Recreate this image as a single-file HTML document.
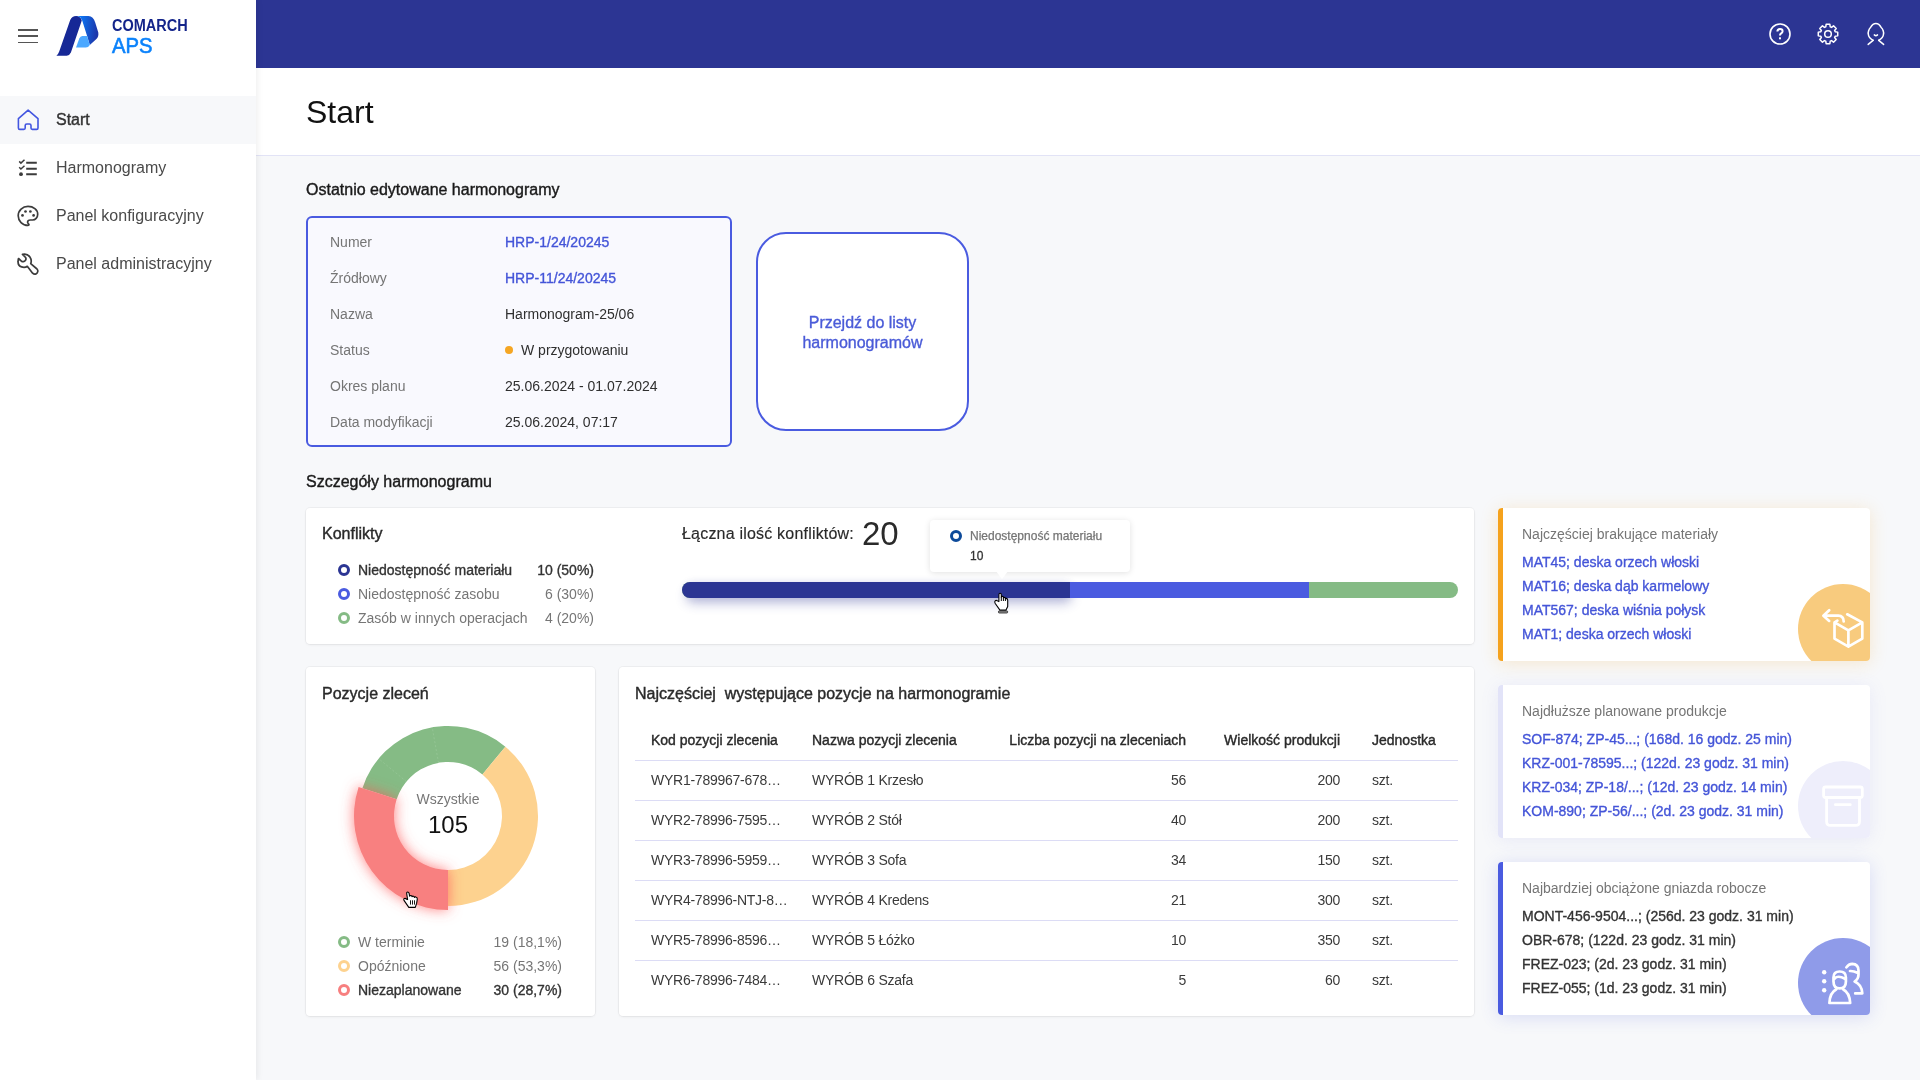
<!DOCTYPE html>
<html lang="pl">
<head>
<meta charset="utf-8">
<title>Comarch APS - Start</title>
<style>
*{box-sizing:border-box;margin:0;padding:0}
html,body{width:1920px;height:1080px;overflow:hidden}
body{font-family:"Liberation Sans",Arial,sans-serif;background:#f7f8fa;color:#333;position:relative;will-change:transform}
.abs{position:absolute}
/* sidebar */
#side{position:absolute;left:0;top:0;width:256px;height:1080px;background:#fff;box-shadow:2px 0 6px rgba(0,0,0,.06);z-index:5}
.ham{position:absolute;left:18px;width:20px;height:1.5px;background:#555}
.logo-t1{position:absolute;left:112px;top:15.5px;font-size:16px;font-weight:700;color:#13248a;line-height:20px;transform:scaleX(.905);transform-origin:0 0}
.logo-t2{position:absolute;left:112px;top:34.5px;font-size:21.8px;font-weight:400;color:#0b82fb;line-height:22px;-webkit-text-stroke:.6px #0b82fb;transform:scaleX(.93);transform-origin:0 0}
.nav{position:absolute;left:0;width:256px;height:48px;font-size:16px;color:#4a4a4a;line-height:48px}
.nav span{position:absolute;left:56px;top:0}
.nav svg{position:absolute;left:0;top:0}
.nav.act{background:#f7f8fa;color:#333;-webkit-text-stroke:.4px #333}
/* top bar */
#top{position:absolute;left:256px;top:0;width:1664px;height:68px;background:#2c3593}
#top svg{position:absolute;top:22px}
/* page header */
#ph{position:absolute;left:256px;top:68px;width:1664px;height:88px;background:#fff;border-bottom:1px solid #e2e3f6}
#ph h1{position:absolute;left:50px;top:24px;font-size:32px;font-weight:400;color:#111;line-height:40px}
.sec{position:absolute;font-size:16px;color:#1a1a1a;-webkit-text-stroke:.4px #1a1a1a;line-height:20px;white-space:nowrap}

/* card 1 */
#c1{position:absolute;left:306px;top:216px;width:426px;height:231px;border:2px solid #4a5be0;border-radius:6px;background:#f9f9fe}
.row{position:absolute;left:22px;height:20px;line-height:20px;font-size:14px;white-space:nowrap}
.row .l{position:absolute;left:0;color:#757575}
.row .v{position:absolute;left:175px;color:#2f2f2f}
.row .v.lnk{color:#4455d8;-webkit-text-stroke:.35px #4455d8}
#c2{position:absolute;left:756px;top:232px;width:213px;height:199px;border:2px solid #4a5be0;border-radius:30px;background:#fff;color:#4a5bd8;font-size:16px;-webkit-text-stroke:.35px #4a5bd8;text-align:center;line-height:20px;padding-top:79px}
.card{position:absolute;background:#fff;border-radius:4px;box-shadow:0 0 0 1px rgba(0,0,0,.04),0 1px 3px rgba(0,0,0,.06)}
.ct{position:absolute;font-size:16px;color:#2a2a2a;-webkit-text-stroke:.4px #2a2a2a;line-height:20px;white-space:nowrap}
.lg{position:absolute;height:20px;line-height:20px;font-size:14px;color:#767676;white-space:nowrap}
.lg i{position:absolute;left:-20px;top:4px;width:12px;height:12px;border-radius:50%;border:3.2px solid #000}
.lg b{font-weight:400}
.lg.on{color:#333;-webkit-text-stroke:.35px #333}
.val{position:absolute;font-size:14px;color:#767676;line-height:20px;text-align:right;white-space:nowrap}
.val.on{color:#333;-webkit-text-stroke:.35px #333}
/* bar */
#bar{position:absolute;left:682px;top:582px;width:776px;height:16px;border-radius:8px;overflow:hidden;background:#85bb85}
#tip{position:absolute;left:930px;top:520px;width:200px;height:52px;background:#fff;border-radius:4px;box-shadow:0 1px 6px rgba(0,0,0,.12)}
/* right cards */
.rc{position:absolute;left:1498px;width:372px;height:153px;background:#fff;border-radius:4px;overflow:hidden}
.rc .bd{position:absolute;left:0;top:0;bottom:0;width:5px}
.rc .ttl{position:absolute;left:24px;top:16px;font-size:14px;color:#757575;line-height:20px;white-space:nowrap}
.rc .it{position:absolute;left:24px;font-size:14px;line-height:20px;white-space:nowrap;color:#4455d8;-webkit-text-stroke:.35px #4455d8}
.rc .circ{position:absolute;left:300px;top:76px;width:90px;height:90px;border-radius:50%}
/* table */
table{position:absolute;left:635px;top:720px;width:823px;border-collapse:collapse;table-layout:fixed;font-size:14px;color:#333}
th{height:40px;font-weight:400;-webkit-text-stroke:.4px #2a2a2a;text-align:left;padding:0 0 0 16px;border-bottom:1px solid #dcdcf5;white-space:nowrap;color:#2a2a2a}
td{height:40px;padding:0 0 0 16px;border-bottom:1px solid #dcdcf5;white-space:nowrap;color:#3a3a3a;letter-spacing:-.25px}
tr:last-child td{border-bottom:none}
.r{text-align:right}
</style>
</head>
<body>
<div id="side">
  <div class="ham" style="top:29px"></div>
  <div class="ham" style="top:35.2px"></div>
  <div class="ham" style="top:41.5px"></div>
  <svg class="abs" style="left:0;top:0" width="110" height="70" viewBox="0 0 110 70">
    <defs>
      <linearGradient id="lg1" x1="0" y1="0" x2="1" y2="0.2">
        <stop offset="0" stop-color="#0a80ff"/>
        <stop offset="1" stop-color="#1c36aa"/>
      </linearGradient>
    </defs>
    <path d="M56.4 55.8 L66.7 55.8 Q69.6 55.6 70.9 52.6 L81.8 20.4 Q80.5 16.2 76.2 16 Q72 16.2 70.2 20 L59.2 51.6 Q58.3 54.3 56.4 55.8 Z" fill="#162896"/>
    <path d="M77.8 16 L88.4 16 Q93.4 16.5 95.2 22.4 L98.3 32.6 Q98.9 36.6 96.4 39.1 L89.8 44.9 L87.1 36 L82.2 20.4 Q80.8 17 77.8 16 Z" fill="url(#lg1)"/>
    <path d="M76 47.6 L85.8 47.6 Q88.3 47.4 89.8 44.9 L87.1 36 L82.4 36 Q80.2 36.2 79.3 38.5 Z" fill="#4ba8ff"/>
  </svg>
  <div class="logo-t1">COMARCH</div>
  <div class="logo-t2">APS</div>

  <div class="nav act" style="top:96px">
    <svg width="48" height="48" viewBox="0 0 48 48" fill="none" stroke="#4356e0" stroke-width="1.6" stroke-linejoin="round"><path d="M28.1 14.2 L18.4 22.6 V32 Q18.4 33.4 19.8 33.4 H23.9 Q25.2 33.4 25.2 32.1 V29.6 Q25.2 28 26.8 28 H29.5 Q31 28 31 29.6 V32.1 Q31 33.4 32.3 33.4 H36.6 Q38 33.4 38 32 V22.6 Z"/></svg>
    <span>Start</span>
  </div>
  <div class="nav" style="top:144px">
    <svg width="48" height="48" viewBox="0 0 48 48" fill="none" stroke="#3c3c3c" stroke-width="1.9"><path d="M26.2 18.7H36.8M26.2 24.7H36.8M26.2 30.2H36.8"/><path d="M19.2 17.4l1.7 1.7 3.6-3.3M19.2 23.3l1.7 1.7 3.6-3.3" stroke-width="1.5"/><circle cx="21" cy="30.2" r="1.9" fill="#3c3c3c" stroke="none"/></svg>
    <span>Harmonogramy</span>
  </div>
  <div class="nav" style="top:192px">
    <svg width="48" height="48" viewBox="0 0 48 48" fill="none" stroke="#3c3c3c" stroke-width="1.7"><path d="M28 33.4 C22.5 33.4 18.2 29 18.2 23.8 C18.2 18.5 22.6 14.4 28 14.4 C33.4 14.4 37.7 17.6 37.7 22.3 C37.7 25.6 35.3 28 32.6 28 L30.4 28 C28.6 28 27.6 29.3 27.6 30.2 C27.6 31.4 29 31.9 29 32.6 C29 33.1 28.6 33.4 28 33.4 Z"/><circle cx="25.5" cy="19.5" r="1.35" fill="#3c3c3c" stroke="none"/><circle cx="30.4" cy="19.5" r="1.35" fill="#3c3c3c" stroke="none"/><circle cx="22.5" cy="23.4" r="1.35" fill="#3c3c3c" stroke="none"/><circle cx="33.6" cy="23.4" r="1.35" fill="#3c3c3c" stroke="none"/></svg>
    <span>Panel konfiguracyjny</span>
  </div>
  <div class="nav" style="top:240px">
    <svg width="48" height="48" viewBox="0 0 48 48" fill="none" stroke="#3c3c3c" stroke-width="1.7" stroke-linejoin="round"><path d="M22.5 14.4 C24.5 13.9 28 14.2 29.9 17 C31.4 19.2 31.5 21.7 30.7 23.7 L37 29 C38.4 30.3 37.9 33 36 33.9 C34.8 34.4 33.5 34 32.6 33.2 L27.3 26.3 C25.8 27.3 23.6 27.6 21.6 26.9 C19.3 26.1 17.9 23.6 18.1 21.4 C18.1 20.4 18.3 19.2 18.5 18.5 L21.4 21.1 C22.4 22 24.3 22 25.3 20.6 C26.2 19.3 26 17.6 24.8 16.6 Z"/></svg>
    <span>Panel administracyjny</span>
  </div>
</div>

<div id="top">
  <svg style="left:1512px" width="24" height="24" viewBox="0 0 24 24" fill="none" stroke="#fff" stroke-width="1.6"><circle cx="12" cy="12" r="10"/><path d="M9.4 9.6 Q9.4 7 12 7 Q14.6 7 14.6 9.3 Q14.6 10.8 13 11.5 Q12 12 12 13.6" stroke-width="2"/><rect x="11" y="15.3" width="2" height="2" fill="#fff" stroke="none"/></svg>
  <svg style="left:1560px" width="24" height="24" viewBox="0 0 24 24" fill="none" stroke="#fff" stroke-width="1.5" stroke-linejoin="round"><path d="M9.78 4.83 L10.13 2.28 L13.87 2.28 L14.22 4.83 L15.50 5.37 L17.55 3.80 L20.20 6.45 L18.63 8.50 L19.17 9.78 L21.72 10.13 L21.72 13.87 L19.17 14.22 L18.63 15.50 L20.20 17.55 L17.55 20.20 L15.50 18.63 L14.22 19.17 L13.87 21.72 L10.13 21.72 L9.78 19.17 L8.50 18.63 L6.45 20.20 L3.80 17.55 L5.37 15.50 L4.83 14.22 L2.28 13.87 L2.28 10.13 L4.83 9.78 L5.37 8.50 L3.80 6.45 L6.45 3.80 L8.50 5.37 Z"/><circle cx="12" cy="12" r="3.3"/></svg>
  <svg style="left:1608px" width="24" height="24" viewBox="0 0 24 24" fill="none" stroke="#fff" stroke-width="1.5" stroke-linecap="round"><path d="M9.1 18.3 Q4.6 15.5 4.4 12.7 Q3.9 10.6 4.6 8.9 Q5 6.8 6.7 5.2 Q8.8 1.4 11.9 1.4 Q15 1.4 17 5.2 Q18.8 6.8 19.2 8.9 Q19.9 10.6 19.4 12.7 Q19.2 15.5 14.7 18.3"/><path d="M10.3 12.9 Q11.9 14.4 13.5 12.9"/><path d="M4.2 22.4 L9.1 18.3 M19.6 22.4 L14.7 18.3"/></svg>
</div>

<div id="ph"><h1>Start</h1></div>

<div class="sec" style="left:306px;top:180px">Ostatnio edytowane harmonogramy</div>

<div id="c1">
  <div class="row" style="top:14px"><span class="l">Numer</span><span class="v lnk">HRP-1/24/20245</span></div>
  <div class="row" style="top:50px"><span class="l">Źródłowy</span><span class="v lnk">HRP-11/24/20245</span></div>
  <div class="row" style="top:86px"><span class="l">Nazwa</span><span class="v">Harmonogram-25/06</span></div>
  <div class="row" style="top:122px"><span class="l">Status</span><span class="v"><i style="position:absolute;left:0;top:6px;width:8px;height:8px;border-radius:50%;background:#f5a623"></i><span style="padding-left:16px">W przygotowaniu</span></span></div>
  <div class="row" style="top:158px"><span class="l">Okres planu</span><span class="v">25.06.2024 - 01.07.2024</span></div>
  <div class="row" style="top:194px"><span class="l">Data modyfikacji</span><span class="v">25.06.2024, 07:17</span></div>
</div>
<div id="c2">Przejdź do listy<br>harmonogramów</div>

<div class="sec" style="left:306px;top:472px">Szczegóły harmonogramu</div>

<div class="card" style="left:306px;top:508px;width:1168px;height:136px"></div>
<div class="ct" style="left:322px;top:524px">Konflikty</div>
<div class="lg on" style="left:358px;top:560px"><i style="border-color:#2b3593"></i>Niedostępność materiału</div>
<div class="lg" style="left:358px;top:584px"><i style="border-color:#4a5be0"></i>Niedostępność zasobu</div>
<div class="lg" style="left:358px;top:608px"><i style="border-color:#85bb85"></i>Zasób w innych operacjach</div>
<div class="val on" style="right:1326px;top:560px">10 (50%)</div>
<div class="val" style="right:1326px;top:584px">6 (30%)</div>
<div class="val" style="right:1326px;top:608px">4 (20%)</div>
<div class="ct" style="left:682px;top:524px;color:#2a2a2a;letter-spacing:.2px;-webkit-text-stroke:.15px #2a2a2a">Łączna ilość konfliktów:</div>
<div class="abs" style="left:862px;top:514px;font-size:33px;line-height:40px;color:#2a2a2a">20</div>
<div class="abs" style="left:686px;top:583px;width:386px;height:14px;border-radius:7px;box-shadow:0 6px 12px rgba(43,53,147,.33),0 0 8px rgba(43,53,147,.15)"></div>
<div id="bar"><div class="abs" style="left:0;top:0;width:388px;height:16px;background:#2b3593"></div><div class="abs" style="left:388px;top:0;width:239px;height:16px;background:#4a5be0"></div></div>
<div id="tip">
  <i class="abs" style="left:20px;top:10px;width:12px;height:12px;border-radius:50%;border:3.2px solid #0d4a9a"></i>
  <div class="abs" style="left:40px;top:8px;font-size:12px;line-height:16px;color:#757575;white-space:nowrap;-webkit-text-stroke:.25px #757575">Niedostępność materiału</div>
  <div class="abs" style="left:40px;top:28px;font-size:12px;line-height:16px;color:#333;-webkit-text-stroke:.3px #333">10</div>
  <div class="abs" style="left:66px;top:51px;width:0;height:0;border-left:6px solid transparent;border-right:6px solid transparent;border-top:8px solid #fff"></div>
</div>

<div class="rc" style="top:508px;box-shadow:0 2px 18px rgba(245,166,35,.2)">
  <div class="bd" style="background:#f5a21d"></div>
  <div class="ttl">Najczęściej brakujące materiały</div>
  <div class="it" style="top:44px">MAT45; deska orzech włoski</div>
  <div class="it" style="top:68px">MAT16; deska dąb karmelowy</div>
  <div class="it" style="top:92px">MAT567; deska wiśnia połysk</div>
  <div class="it" style="top:116px">MAT1; deska orzech włoski</div>
  <div class="circ" style="background:#f8cb7e"></div><svg class="abs" style="left:0;top:0" width="372" height="153" viewBox="1498 508 372 153" fill="none" stroke="#fff" stroke-width="2.7" stroke-linecap="round" stroke-linejoin="round"><path d="M1829.2 610.2 L1823.4 615.7 L1829.2 620.9 M1823.8 615.7 H1838.3 Q1843.6 616 1843.7 621.4"/><path d="M1837.4 620.7 L1834.5 622.4 V638.6 L1848.4 646.6 L1862.3 638.6 V622.4 L1847.2 614.3 M1834.5 622.4 L1848.4 630.4 L1862.3 622.4 M1848.4 630.4 V646.4"/></svg>
</div>
<div class="rc" style="top:685px;box-shadow:0 2px 18px rgba(120,120,220,.12)">
  <div class="bd" style="background:#e2e3f8"></div>
  <div class="ttl">Najdłuższe planowane produkcje</div>
  <div class="it" style="top:44px">SOF-874; ZP-45...; (168d. 16 godz. 25 min)</div>
  <div class="it" style="top:68px">KRZ-001-78595...; (122d. 23 godz. 31 min)</div>
  <div class="it" style="top:92px">KRZ-034; ZP-18/...; (12d. 23 godz. 14 min)</div>
  <div class="it" style="top:116px">KOM-890; ZP-56/...; (2d. 23 godz. 31 min)</div>
  <div class="circ" style="background:#eeeefb"></div><svg class="abs" style="left:0;top:0" width="372" height="153" viewBox="1498 685 372 153" fill="none" stroke="#fff" stroke-width="2.8" stroke-linecap="round" stroke-linejoin="round"><path d="M1825.6 787 H1860.2 Q1862.3 787 1862.3 789 V795.5 Q1862.3 797.5 1860.2 797.5 H1825.6 Q1823.6 797.5 1823.6 795.5 V789 Q1823.6 787 1825.6 787 Z"/><path d="M1826.6 797.5 V821.4 Q1826.6 825.4 1830.6 825.4 H1855.5 Q1859.5 825.4 1859.5 821.4 V797.5 M1835.4 804.7 H1850.3"/></svg>
</div>
<div class="rc" style="top:862px;box-shadow:0 2px 18px rgba(74,91,224,.18)">
  <div class="bd" style="background:#4a5be0"></div>
  <div class="ttl">Najbardziej obciążone gniazda robocze</div>
  <div class="it" style="top:44px;color:#333;-webkit-text-stroke:.35px #333">MONT-456-9504...; (256d. 23 godz. 31 min)</div>
  <div class="it" style="top:68px;color:#333;-webkit-text-stroke:.35px #333">OBR-678; (122d. 23 godz. 31 min)</div>
  <div class="it" style="top:92px;color:#333;-webkit-text-stroke:.35px #333">FREZ-023; (2d. 23 godz. 31 min)</div>
  <div class="it" style="top:116px;color:#333;-webkit-text-stroke:.35px #333">FREZ-055; (1d. 23 godz. 31 min)</div>
  <div class="circ" style="background:#8f9be9"></div><svg class="abs" style="left:0;top:0" width="372" height="153" viewBox="1498 862 372 153" fill="none" stroke="#fff" stroke-width="2.7" stroke-linecap="round" stroke-linejoin="round"><circle cx="1824.2" cy="972.2" r="2.2" fill="#fff" stroke="none"/><circle cx="1824.2" cy="981.2" r="2.2" fill="#fff" stroke="none"/><circle cx="1824.2" cy="990.3" r="2.2" fill="#fff" stroke="none"/><path d="M1839.7 988.4 Q1833.5 988.4 1833.5 981.5 V977.5 Q1833.5 971.5 1839.7 971.5 Q1845.9 971.5 1845.9 977.5 V981.5 Q1845.9 988.4 1839.7 988.4 Z"/><path d="M1834.6 978.6 Q1837.8 974.8 1845 978.8"/><path d="M1836.4 989.2 Q1829.8 992.6 1829.4 1003 H1850.2 Q1849.6 992.6 1843 989.2"/><path d="M1846.4 967.4 Q1848.6 963.8 1852.3 963.8 Q1858.5 964 1858.5 970.5 V974.5 Q1858.5 979 1854.6 981.6 Q1861.8 984.7 1862.3 993.4 H1855.2 M1850 971 Q1853.6 970.8 1857.4 972.8"/></svg>
</div>

<div class="card" style="left:306px;top:667px;width:289px;height:349px"></div>
<div class="ct" style="left:322px;top:684px">Pozycje zleceń</div>
<svg class="abs" style="left:0;top:0;overflow:visible" width="1" height="1">
<defs><filter id="rsh" x="-50%" y="-50%" width="200%" height="200%"><feGaussianBlur in="SourceAlpha" stdDeviation="5"/><feFlood flood-color="#f4585a" flood-opacity=".55"/><feComposite operator="in" in2="SourceGraphic" result="x"/></filter>
<filter id="rsh2" x="-50%" y="-50%" width="200%" height="200%"><feDropShadow dx="0" dy="0" stdDeviation="7" flood-color="#f55" flood-opacity=".75"/></filter></defs>
<path d="M362.40 788.19 A90 90 0 0 1 505.37 746.65 L482.42 774.39 A54 54 0 0 0 396.64 799.31 Z" fill="#85bb85"/>
<path d="M406.39 781.58 L378.65 758.63 M438.53 762.84 L432.22 727.39" stroke="#9cc99c" stroke-width=".6" stroke-dasharray="2 2"/>
<path d="M505.37 746.65 A90 90 0 0 1 448.00 906.00 L448.00 870.00 A54 54 0 0 0 482.42 774.39 Z" fill="#fdd28f"/>
<path d="M448.00 910.00 A94 94 0 0 1 358.60 786.95 L396.64 799.31 A54 54 0 0 0 448.00 870.00 Z" fill="#f88080" filter="url(#rsh2)"/>
</svg>
<div class="abs" style="left:398px;top:789px;width:100px;text-align:center;font-size:14px;line-height:20px;color:#777">Wszystkie</div>
<div class="abs" style="left:398px;top:810px;width:100px;text-align:center;font-size:24px;line-height:30px;color:#111">105</div>
<div class="lg" style="left:358px;top:932px"><i style="border-color:#85bb85"></i>W terminie</div>
<div class="lg" style="left:358px;top:956px"><i style="border-color:#fdd28f"></i>Opóźnione</div>
<div class="lg on" style="left:358px;top:980px"><i style="border-color:#f77f7f"></i>Niezaplanowane</div>
<div class="val" style="right:1358px;top:932px">19 (18,1%)</div>
<div class="val" style="right:1358px;top:956px">56 (53,3%)</div>
<div class="val on" style="right:1358px;top:980px">30 (28,7%)</div>

<div class="card" style="left:619px;top:667px;width:855px;height:349px"></div>
<div class="ct" style="left:635px;top:684px;white-space:pre">Najczęściej  występujące pozycje na harmonogramie</div>
<table>
<tr><th style="width:161px">Kod pozycji zlecenia</th><th style="width:195px">Nazwa pozycji zlecenia</th><th class="r" style="width:195px;padding:0">Liczba pozycji na zleceniach</th><th class="r" style="width:154px;padding:0">Wielkość produkcji</th><th style="padding-left:32px">Jednostka</th></tr>
<tr><td>WYR1-789967-678…</td><td>WYRÓB 1 Krzesło</td><td class="r" style="padding:0">56</td><td class="r" style="padding:0">200</td><td style="padding-left:32px">szt.</td></tr>
<tr><td>WYR2-78996-7595…</td><td>WYRÓB 2 Stół</td><td class="r" style="padding:0">40</td><td class="r" style="padding:0">200</td><td style="padding-left:32px">szt.</td></tr>
<tr><td>WYR3-78996-5959…</td><td>WYRÓB 3 Sofa</td><td class="r" style="padding:0">34</td><td class="r" style="padding:0">150</td><td style="padding-left:32px">szt.</td></tr>
<tr><td>WYR4-78996-NTJ-8…</td><td>WYRÓB 4 Kredens</td><td class="r" style="padding:0">21</td><td class="r" style="padding:0">300</td><td style="padding-left:32px">szt.</td></tr>
<tr><td>WYR5-78996-8596…</td><td>WYRÓB 5 Łóżko</td><td class="r" style="padding:0">10</td><td class="r" style="padding:0">350</td><td style="padding-left:32px">szt.</td></tr>
<tr><td>WYR6-78996-7484…</td><td>WYRÓB 6 Szafa</td><td class="r" style="padding:0">5</td><td class="r" style="padding:0">60</td><td style="padding-left:32px">szt.</td></tr>
</table>

<svg class="abs" style="left:985px;top:585px;z-index:10" width="35" height="35" viewBox="0 0 35 35"><path d="M13.9 16.6 V9.7 Q13.9 8.2 15.1 8.2 Q16.3 8.2 16.3 9.7 V12.4 Q16.5 11.3 17.4 11.3 Q18.4 11.4 18.4 12.6 V13.2 Q18.6 12.3 19.4 12.4 Q20.4 12.5 20.4 13.5 V14.2 Q20.6 13.3 21.4 13.4 Q22.7 13.7 22.7 15.2 V21.6 L21 25.1 H14.9 L10.1 18.2 Q9.3 16.6 10.2 15.8 Q11.2 15 12.3 15.8 Z" fill="#fff" stroke="#000" stroke-width="1.1" stroke-linejoin="round"/><path d="M16.3 12.4 V16 M18.4 13.2 V16 M20.4 14.2 V16" stroke="#000" stroke-width="1"/><rect x="13.4" y="25.8" width="9.3" height="2.3" rx="1" fill="#888" stroke="#000" stroke-width=".6"/></svg>
<svg class="abs" style="left:395px;top:880px;z-index:10" width="35" height="35" viewBox="0 0 35 35"><path d="M12.6 19.6 L11.7 13.6 Q11.6 12 12.7 12 Q13.8 12 14.1 13.4 L14.6 16.2 Q15 15.3 16 15.5 Q16.8 15.7 17 16.7 Q17.5 16 18.4 16.2 Q19.3 16.5 19.4 17.4 Q19.9 16.7 20.9 17 Q22.5 17.4 22.3 19.2 L21.6 23.4 L20.3 27.4 H13.8 L9 20.4 Q8.3 19 9.3 18.5 Q10.6 18 11.5 19.2 Z" fill="#fff" stroke="#000" stroke-width="1.1" stroke-linejoin="round"/><path d="M15.5 20.3 V24.6 M17.5 20.3 V24.6 M19.5 20.3 V24.6" stroke="#000" stroke-width=".9"/></svg>
</body>
</html>
